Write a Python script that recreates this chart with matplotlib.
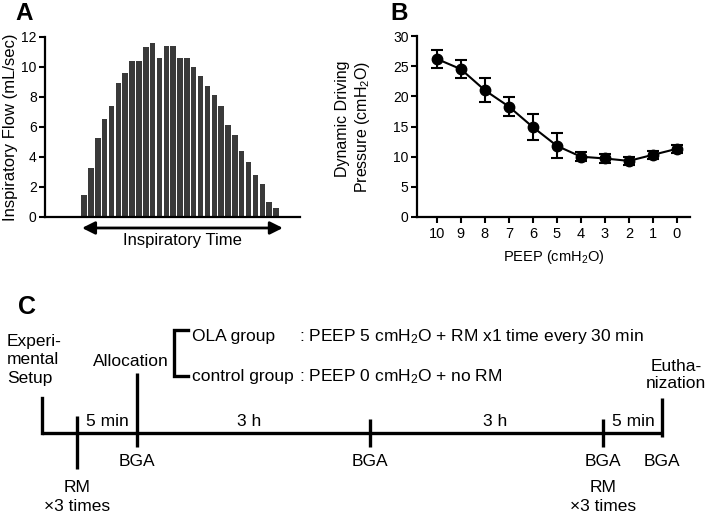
"""Recreate the three-panel figure: flow bars, driving pressure vs PEEP, and protocol timeline."""
import matplotlib
matplotlib.use("Agg")
import matplotlib.pyplot as plt
import numpy as np

plt.rcParams["font.family"] = ["Liberation Sans", "DejaVu Sans"]
plt.rcParams["mathtext.fontset"] = "custom"
plt.rcParams["mathtext.rm"] = "Liberation Sans"
plt.rcParams["mathtext.it"] = "Liberation Sans:italic"

# --- Panel A: inspiratory flow samples (mL/sec)
flow = [1.5, 3.3, 5.3, 6.5, 7.4, 8.9, 9.6, 10.4, 10.4, 11.3, 11.6, 10.6, 11.4, 11.4,
        10.6, 10.6, 10.0, 9.4, 8.7, 8.1, 7.4, 6.1, 5.5, 4.4, 3.7, 2.8, 2.2, 1.0, 0.6]

# --- Panel B: dynamic driving pressure by PEEP step
peep = [10, 9, 8, 7, 6, 5, 4, 3, 2, 1, 0]
ddp_mean = [26.2, 24.5, 21.0, 18.3, 14.9, 11.8, 10.0, 9.7, 9.3, 10.3, 11.3]
ddp_err = [1.5, 1.5, 2.0, 1.6, 2.1, 2.1, 0.7, 0.7, 0.7, 0.7, 0.7]

# --- Panel C: protocol timeline
events_below = ["BGA", "BGA", "BGA", "BGA"]
rm_label = "RM\n×3 times"
tl_segments = ["5 min", "3 h", "3 h", "5 min"]
groups = ["OLA group", "control group"]
group_desc = [": PEEP 5 cmH$_2$O + RM x1 time every 30 min",
              ": PEEP 0 cmH$_2$O + no RM"]

W, H = 709, 515
fig = plt.figure(figsize=(W / 100, H / 100), dpi=100)


def box(l, t, r, b):
    return [l / W, 1 - b / H, (r - l) / W, (b - t) / H]


# ---------------- Panel A
axA = fig.add_axes(box(45, 37, 300, 217))
x = np.arange(len(flow))
axA.bar(x, flow, width=0.8, color="#3a3a3a", edgecolor="none")
axA.set_xlim(-5.7, 31.5)
axA.set_ylim(0, 12)
axA.set_yticks(range(0, 13, 2))
axA.set_xticks([])
for s in ["top", "right"]:
    axA.spines[s].set_visible(False)
for s in ["left", "bottom"]:
    axA.spines[s].set_linewidth(1.6)
axA.tick_params(axis="y", width=1.5, length=4, labelsize=10, pad=2)
axA.set_ylabel("Inspiratory Flow (mL/sec)", fontsize=12, labelpad=2)
axA.annotate("", xy=(x[-1] + 1.0, -0.061), xytext=(x[0] - 0.3, -0.061),
             xycoords=("data", "axes fraction"), textcoords=("data", "axes fraction"),
             arrowprops=dict(arrowstyle="<|-|>", color="black", lw=2.0,
                             mutation_scale=19, shrinkA=0, shrinkB=0),
             annotation_clip=False)
axA.text((x[0] + x[-1]) / 2 + 0.3, -0.128, "Inspiratory Time", transform=axA.get_xaxis_transform(),
         ha="center", va="center", fontsize=12, family=["Liberation Sans Narrow", "Liberation Sans"])
fig.text(15 / W, 1 - 13 / H, "A", fontsize=17.5, fontweight="bold", va="center", ha="left")

# ---------------- Panel B
axB = fig.add_axes(box(417, 36, 690, 217))
axB.errorbar(peep, ddp_mean, yerr=ddp_err, color="black", lw=1.5, marker="o",
             markersize=7.5, capsize=4.5, capthick=1.5, elinewidth=1.5)
axB.set_xlim(10.83, -0.55)
axB.set_ylim(0, 30)
axB.set_yticks(range(0, 31, 5))
axB.set_xticks(peep)
for s in ["top", "right"]:
    axB.spines[s].set_visible(False)
for s in ["left", "bottom"]:
    axB.spines[s].set_linewidth(1.6)
axB.tick_params(axis="y", width=1.5, length=4, labelsize=10, pad=2)
axB.tick_params(axis="x", width=1.5, length=4, labelsize=10.5, pad=3)
axB.set_ylabel("Dynamic Driving\nPressure (cmH$_2$O)", fontsize=11.5, multialignment="right")
axB.yaxis.set_label_coords(-0.165, 0.5)
axB.set_xlabel("PEEP (cmH$_2$O)", fontsize=10.5, labelpad=5)
fig.text(390 / W, 1 - 13 / H, "B", fontsize=17.5, fontweight="bold", va="center", ha="left")

# ---------------- Panel C (drawn in pixel coordinates)
axC = fig.add_axes([0, 0, 1, (H - 280) / H])
axC.set_xlim(0, W)
axC.set_ylim(H, 280)
axC.axis("off")
fs = 12.5
lw = 2.4
line_y = 433
x0, x_end = 42, 662
tick_x = [77, 137, 370, 603, 662]
axC.plot([x0, x_end], [line_y, line_y], color="black", lw=lw, solid_capstyle="butt")
axC.plot([x0, x0], [398, line_y], color="black", lw=lw, solid_capstyle="projecting")
# event ticks
tick_span = [(416, 469), (373, 447), (419, 447), (419, 447), (398, 437)]
for tx, (t0, t1) in zip(tick_x, tick_span):
    axC.plot([tx, tx], [t0, t1], color="black", lw=lw, solid_capstyle="butt")
# labels below the line
for tx, lab in zip(tick_x[1:], events_below):
    axC.text(tx, 462, lab, ha="center", va="center", fontsize=fs)
for tx in (tick_x[0], tick_x[3]):
    axC.text(tx, 497, rm_label, ha="center", va="center", fontsize=fs, linespacing=1.35)
# segment durations
seg_x = [107, 249, 495, 633]
for sx, lab in zip(seg_x, tl_segments):
    axC.text(sx, 422, lab, ha="center", va="center", fontsize=fs)
# phase labels
axC.text(7, 360, "Experi-\nmental\nSetup", ha="left", va="center", fontsize=fs, linespacing=1.3)
axC.text(131, 361, "Allocation", ha="center", va="center", fontsize=fs)
axC.text(676, 375, "Eutha-\nnization", ha="center", va="center", fontsize=fs, linespacing=1.2)
# group bracket
br_top, br_bot, br_x, br_r = 330, 376, 174, 188
axC.plot([br_r, br_x, br_x, br_r], [br_top, br_top, br_bot, br_bot], color="black",
         lw=lw, solid_joinstyle="miter")
for gy, g, d in zip([336, 377], groups, group_desc):
    axC.text(192, gy, g, ha="left", va="center", fontsize=fs)
    axC.text(299, gy, d, ha="left", va="center", fontsize=fs)
fig.text(18 / W, 1 - 307 / H, "C", fontsize=18, fontweight="bold", va="center", ha="left")

fig.savefig("out.png", dpi=100)
print("Saved: out.png")
